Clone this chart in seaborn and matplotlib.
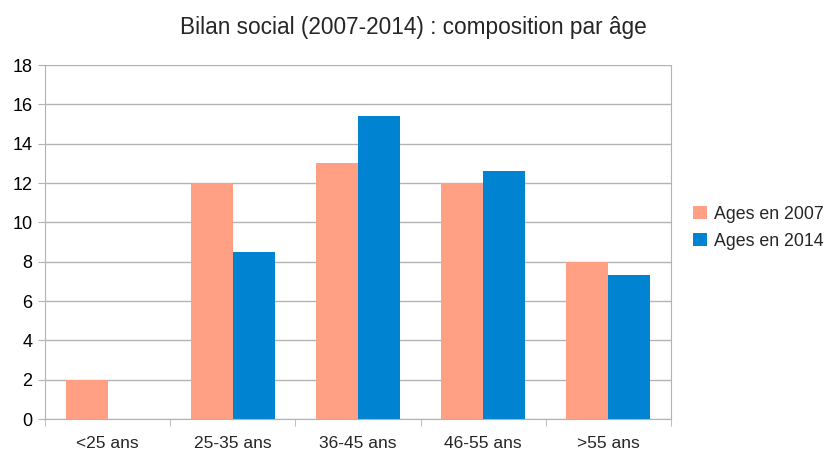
import pandas as pd
import matplotlib.pyplot as plt
import seaborn as sns
from matplotlib.ticker import FixedLocator

categories = ["<25 ans", "25-35 ans", "36-45 ans", "46-55 ans", ">55 ans"]
ages_2007 = [2, 12, 13, 12, 8]
ages_2014 = [0, 8.5, 15.4, 12.6, 7.3]
series = ["Ages en 2007", "Ages en 2014"]

df = pd.DataFrame({
    "cat": categories * 2,
    "val": ages_2007 + ages_2014,
    "serie": [series[0]] * 5 + [series[1]] * 5,
})

sns.set_style("white")
plt.rcParams["font.family"] = ["Liberation Sans", "DejaVu Sans"]

fig = plt.figure(figsize=(8.26, 4.5), dpi=100)
ax = fig.add_axes([45 / 826, 31 / 450, 626 / 826, 354 / 450])

sns.barplot(data=df, x="cat", y="val", hue="serie", palette=["#ff9f84", "#0084d1"],
            width=0.67, saturation=1, linewidth=0, ax=ax, legend=True)

ax.set_ylim(0, 18)
ax.set_xlim(-0.5, 4.5)
ax.set_yticks(range(0, 19, 2))
ax.yaxis.grid(True, color="#b3b3b3", linewidth=1)
ax.set_axisbelow(True)
ax.set_xlabel("")
ax.set_ylabel("")

for s in ["left", "bottom", "right"]:
    ax.spines[s].set_color("#b3b3b3")
ax.spines["top"].set_visible(False)

ax.tick_params(axis="y", left=True, length=5, color="#b3b3b3", labelsize=13, labelcolor="#000000", pad=4)
ax.tick_params(axis="x", which="major", bottom=False, labelsize=12.5, pad=9)
ax.xaxis.set_minor_locator(FixedLocator([-0.5, 0.5, 1.5, 2.5, 3.5, 4.5]))
ax.tick_params(axis="x", which="minor", bottom=True, length=5, color="#b3b3b3")

fig.suptitle("Bilan social (2007-2014) : composition par âge", fontsize=16.3, y=0.965)

ax.legend(title=None, frameon=False, loc="center left", bbox_to_anchor=(1.01, 0.54),
          fontsize=12.8, handlelength=0.75, handleheight=0.75, handletextpad=0.4, labelspacing=0.55)

fig.savefig("out.png", dpi=100)
